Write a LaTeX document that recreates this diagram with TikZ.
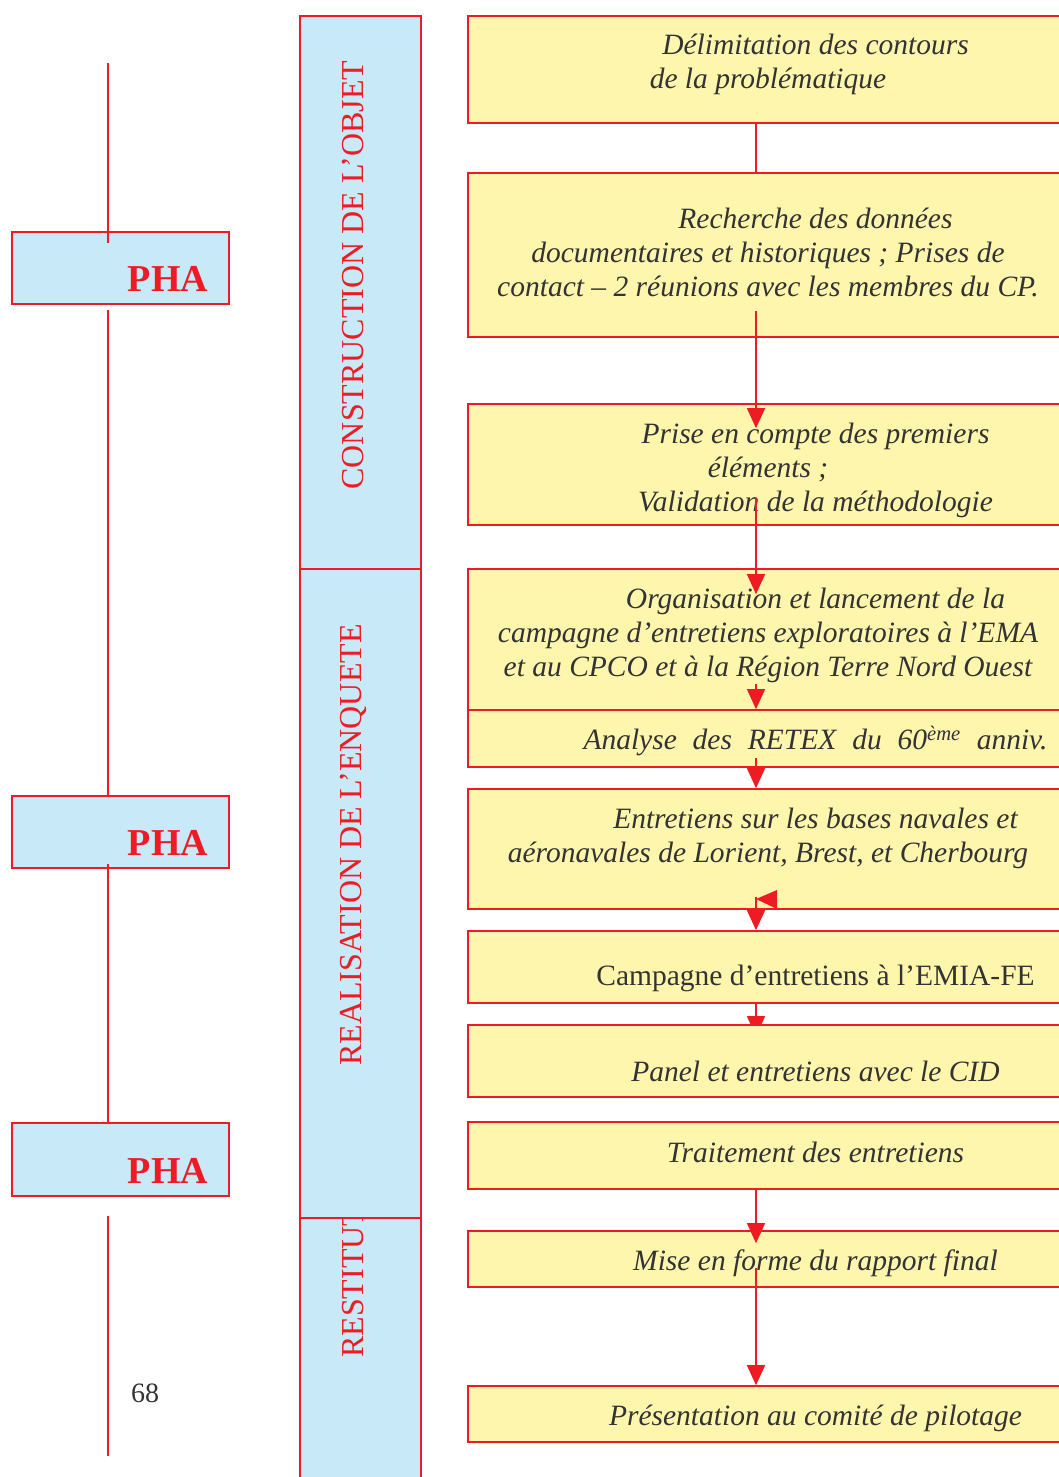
\documentclass[tikz,border=0pt]{standalone}
\usepackage{fontspec}
\setmainfont{Liberation Serif}
\usepackage{xcolor}
\usetikzlibrary{arrows.meta, calc, backgrounds}

\definecolor{bandblue}{HTML}{C7E9F8}
\definecolor{boxyellow}{HTML}{FFF6AE}
\definecolor{edgered}{HTML}{ED1C24}
\definecolor{inkgray}{HTML}{333333}

\newcommand{\parind}{\hspace*{95pt}}

\begin{document}
\begin{tikzpicture}[x=1pt, y=-1pt,
    stepbox/.style={draw=edgered, fill=boxyellow, line width=1.6pt, minimum width=600pt, inner sep=0pt},
    steptext/.style={text=inkgray, font=\fontsize{29.5}{34}\selectfont\itshape, align=center, inner sep=0pt},
    band/.style={draw=edgered, fill=bandblue, line width=1.6pt, minimum width=121pt, inner sep=0pt},
    bandtext/.style={text=edgered, font=\fontsize{32}{36}\selectfont, rotate=90, inner sep=0pt},
    phabox/.style={draw=edgered, fill=bandblue, line width=1.6pt, minimum width=217pt, inner sep=0pt},
    phatext/.style={text=edgered, font=\fontsize{38}{40}\selectfont\bfseries, inner sep=0pt},
    rail/.style={draw=edgered, line width=1.4pt},
    flow/.style={draw=edgered, line width=1.4pt, -{Triangle[length=20pt, width=18pt]}}]

    \useasboundingbox (0,0) rectangle (1059,1477);

    % phases
    \node[band, minimum height=300pt] (s3) at (360.5,1368) {};
    \node[bandtext, anchor=west] (s3t) at (353,1358) {RESTITUTION};
    \node[band, minimum height=649pt] (s2) at (360.5,893.5) {};
    \node[band, minimum height=553pt] (s1) at (360.5,292.5) {};
    \node[bandtext] (s1t) at (353,275) {CONSTRUCTION DE L’OBJET};
    \node[bandtext] (s2t) at (353,845) {REALISATION DE L’ENQUETE};

    % PHA
    \node[phabox, minimum height=72pt] (p1) at (120.5,268) {};
    \node[phabox, minimum height=72pt] (p2) at (120.5,832) {};
    \node[phabox, minimum height=73pt] (p3) at (120.5,1159.5) {};
    \node[phatext] (p1t) at (168,279) {PHA};
    \node[phatext] (p2t) at (168,843) {PHA};
    \node[phatext] (p3t) at (168,1171) {PHA};

    \coordinate (railtop) at (108,63);
    \coordinate (railend) at (108,1456);
    \draw[rail] (railtop) -- ($(p1.north -| railtop)+(0,12)$);
    \draw[rail] ($(p1.south -| railtop)+(0,5)$) -- (p2.north -| railtop);
    \draw[rail] ($(p2.south -| railtop)+(0,-5)$) -- (p3.north -| railtop);
    \draw[rail] ($(p3.south -| railtop)+(0,19)$) -- (railend);

    \node[text=inkgray, font=\fontsize{28}{34}\selectfont] (pageno) at (145,1393.5) {68};

    % steps
    \node[stepbox, minimum height=107pt] (b1) at (768,69.5) {};
    \node[stepbox, minimum height=164pt] (b2) at (768,255) {};
    \node[stepbox, minimum height=121pt] (b3) at (768,464.5) {};
    \node[stepbox, minimum height=141pt] (b4) at (768,639.5) {};
    \node[stepbox, minimum height=57pt] (b5) at (768,738.5) {};
    \node[stepbox, minimum height=120pt] (b6) at (768,849) {};
    \node[stepbox, minimum height=72pt] (b7) at (768,967) {};
    \node[stepbox, minimum height=72pt] (b8) at (768,1061) {};
    \node[stepbox, minimum height=67pt] (b9) at (768,1155.5) {};
    \node[stepbox, minimum height=56pt] (b10) at (768,1259) {};
    \node[stepbox, minimum height=56pt] (b11) at (768,1414) {};

    \node[steptext] (t1) at (768,64) {\parind Délimitation des contours\\de la problématique};
    \node[steptext] (t2) at (768,252) {\parind Recherche des données\\documentaires et historiques ; Prises de\\contact – 2 réunions avec les membres du CP.};
    \node[steptext] (t3) at (768,470) {\parind Prise en compte des premiers\\éléments ;\\\parind Validation de la méthodologie};
    \node[steptext] (t4) at (768,635) {\parind Organisation et lancement de la\\campagne d’entretiens exploratoires à l’EMA\\et au CPCO et à la Région Terre Nord Ouest};
    \node[steptext] (t5) at (768,741) {\parind\makebox[464pt][s]{Analyse des RETEX du 60\textsuperscript{ème} anniv.}};
    \node[steptext] (t6) at (768,838) {\parind Entretiens sur les bases navales et\\aéronavales de Lorient, Brest, et Cherbourg};
    \node[steptext, font=\fontsize{29.5}{34}\selectfont] (t7) at (768,978) {\parind Campagne d’entretiens à l’EMIA-FE};
    \node[steptext] (t8) at (768,1071) {\parind Panel et entretiens avec le CID};
    \node[steptext] (t9) at (768,1152) {\parind Traitement des entretiens};
    \node[steptext] (t10) at (768,1263) {\parind Mise en forme du rapport final};
    \node[steptext] (t11) at (768,1418) {\parind Présentation au comité de pilotage};

    \coordinate (ax) at (756,0);
    \draw[rail] (b1.south -| ax) -- (b2.north -| ax);
    \draw[flow, shorten <=-27pt, shorten >=-25pt] (b2.south -| ax) -- (b3.north -| ax);
    \draw[flow, shorten <=-28pt, shorten >=-26pt] (b3.south -| ax) -- (b4.north -| ax);
    \draw[flow] ($(b4.south -| ax)+(0,-27)$) -- (b5.north -| ax);
    \draw[flow, shorten <=-10pt] (b5.south -| ax) -- (b6.north -| ax);
    \draw[flow, shorten <=-13pt] (b6.south -| ax) -- (b7.north -| ax);
    \fill[edgered] (756,899) -- (777,890) -- (777,909) -- cycle;
    \begin{pgfonlayer}{background}
        \draw[flow, shorten >=-12pt] (b7.south -| ax) -- (b8.north -| ax);
    \end{pgfonlayer}
    \draw[flow, shorten >=-13pt] (b9.south -| ax) -- (b10.north -| ax);
    \draw[flow, shorten <=-20pt] (b10.south -| ax) -- (b11.north -| ax);
\end{tikzpicture}
\end{document}
